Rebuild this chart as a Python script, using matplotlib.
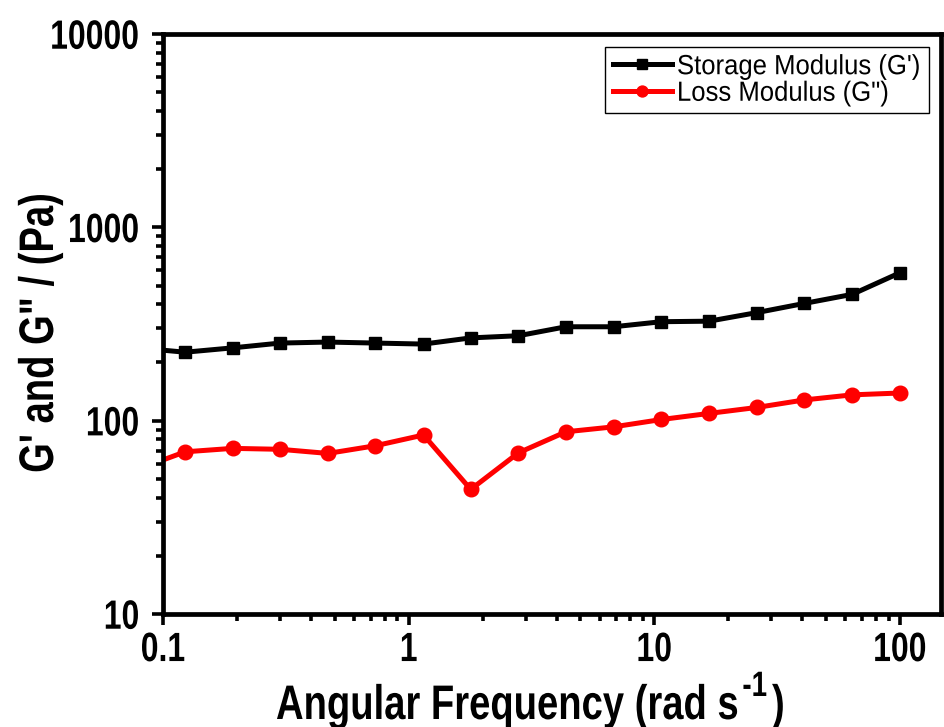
import matplotlib
matplotlib.use("Agg")
import matplotlib.pyplot as plt
from matplotlib import patheffects
from matplotlib.transforms import Affine2D
from matplotlib.ticker import LogLocator, NullFormatter

plt.rcParams['font.family'] = ['Liberation Sans', 'DejaVu Sans']

# frequency sweep (rad/s); first point sits just left of the plotted range
freq = [0.0787, 0.123, 0.192, 0.300, 0.469, 0.733, 1.15, 1.79, 2.80,
        4.37, 6.83, 10.7, 16.7, 26.1, 40.8, 63.9, 100]
storage = [238, 226, 238, 252, 255, 252, 249, 268, 275,
           306, 306, 325, 327, 362, 404, 450, 582]
loss = [56, 69.0, 71.9, 71.1, 67.7, 74.2, 84.3, 44.1, 68.2,
        87.6, 92.9, 101.4, 109, 117, 128, 136, 139]

x_ticks = [0.1, 1, 10, 100]
x_labels = ['0.1', '1', '10', '100']
y_ticks = [10, 100, 1000, 10000]
y_labels = ['10', '100', '1000', '10000']


class Stretch(patheffects.AbstractPathEffect):
    """Draw text taller than its font, scaling about a line (font units, em=100)."""

    def __init__(self, sy, cy=0.0):
        super().__init__()
        self.sy = sy
        self.cy = cy

    def draw_path(self, renderer, gc, tpath, affine, rgbFace=None):
        t = Affine2D().translate(0, -self.cy).scale(1, self.sy).translate(0, self.cy)
        renderer.draw_path(gc, tpath, t + affine, rgbFace)


fig = plt.figure(figsize=(9.44, 7.27), dpi=100)
ax = fig.add_axes([163 / 944, 1 - 614 / 727, (941 - 163) / 944, (614 - 34) / 727])

ax.plot(freq, storage, color='black', lw=3.6, marker='s', ms=9,
        label="Storage Modulus (G')")
ax.plot(freq, loss, color='red', lw=3.6, marker='o', ms=10.5,
        label='Loss Modulus (G")')

ax.set_xscale('log')
ax.set_yscale('log')
ax.set_xlim(0.1, 147)
ax.set_ylim(10, 10000)

ax.set_xticks(x_ticks)
ax.set_xticklabels(x_labels)
ax.set_yticks(y_ticks)
ax.set_yticklabels(y_labels)
ax.xaxis.set_minor_locator(LogLocator(base=10, subs=range(2, 10)))
ax.yaxis.set_minor_locator(LogLocator(base=10, subs=range(2, 10)))
ax.xaxis.set_minor_formatter(NullFormatter())
ax.yaxis.set_minor_formatter(NullFormatter())

for s in ax.spines.values():
    s.set_linewidth(3.4)
ax.tick_params(axis='x', which='major', pad=7)
ax.tick_params(axis='y', which='major', pad=9)
ax.tick_params(which='major', direction='out', length=8, width=2.6, labelsize=23)
ax.tick_params(which='minor', direction='out', length=5, width=2.6)
for lbl in ax.get_xticklabels() + ax.get_yticklabels():
    lbl.set_fontweight('bold')
    lbl.set_path_effects([Stretch(1.28, 36)])

# axis titles, drawn tall and narrow
label_kw = dict(fontsize=27.5, fontweight='bold', color='black')
fig.text(53 / 944, 1 - 333 / 727, 'G\' and G" / (Pa)', rotation=90,
         rotation_mode='anchor', ha='center', va='baseline',
         path_effects=[Stretch(1.27)], **label_kw)

renderer = fig.canvas.get_renderer()
base_y = 1 - 719 / 727
xt1 = fig.text(0, base_y, 'Angular Frequency (rad s', ha='left', va='baseline',
               path_effects=[Stretch(1.27)], **label_kw)
xt2 = fig.text(0, 1 - 696 / 727, '-1', ha='left', va='baseline',
               fontsize=20, fontweight='bold', path_effects=[Stretch(1.27)])
xt3 = fig.text(0, base_y, ')', ha='left', va='baseline',
               path_effects=[Stretch(1.27)], **label_kw)
w1 = xt1.get_window_extent(renderer).width
w2 = xt2.get_window_extent(renderer).width
x0 = 276
xt1.set_x(x0 / 944)
xt2.set_x((x0 + w1 + 3) / 944)
xt3.set_x((x0 + w1 + w2 + 8) / 944)

leg = ax.legend(loc='upper right', bbox_to_anchor=(0.984, 0.978),
                borderaxespad=0, frameon=True, fancybox=False, fontsize=18.5,
                edgecolor='black', framealpha=1, handlelength=2.3,
                handletextpad=0.2, labelspacing=0.1, borderpad=0.3,
                markerscale=0.75)
leg.get_frame().set_linewidth(1.0)
for t in leg.get_texts():
    t.set_path_effects([Stretch(1.08, 36)])

fig.savefig('out.png', dpi=100)
